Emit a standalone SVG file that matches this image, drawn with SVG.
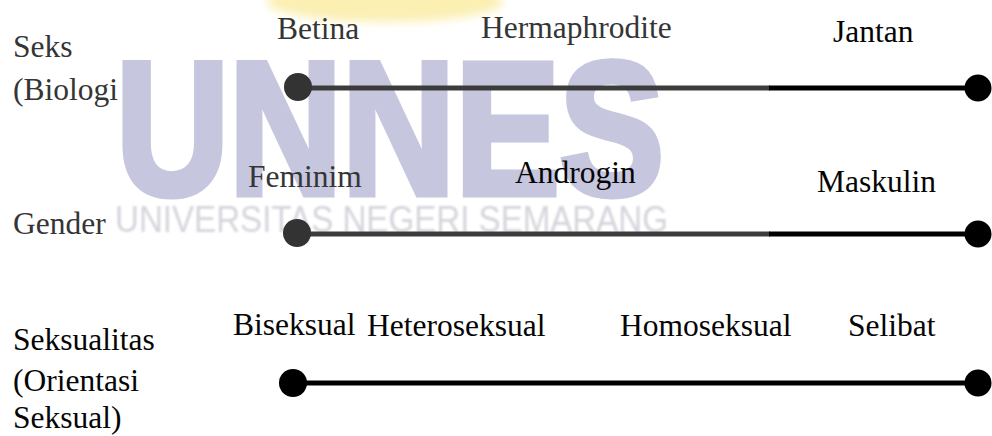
<svg xmlns="http://www.w3.org/2000/svg" width="992" height="436" viewBox="0 0 992 436">
<defs>
<filter id="soft" x="-20%" y="-50%" width="140%" height="200%"><feGaussianBlur stdDeviation="5"/></filter>
<filter id="soft1"><feGaussianBlur stdDeviation="0.8"/></filter>
<style>
text{font-family:"Liberation Serif","Times New Roman",serif;font-size:31.5px}
.g{fill:#353535}
.k{fill:#050505}
.lg{stroke:#3c3c3c;stroke-width:5;fill:none}
.lk{stroke:#000;stroke-width:5;fill:none}
.dg{fill:#333}
.dk{fill:#000}
text.wm{font-family:"Liberation Sans",Arial,sans-serif;font-weight:bold}
text.big{font-size:190px;stroke:#c6c6df;stroke-width:7;stroke-linejoin:miter}
text.small{font-size:37px;font-weight:normal}
</style>
</defs>
<rect width="992" height="436" fill="#fff"/>
<g id="watermark">
<ellipse cx="385" cy="2" rx="118" ry="20" fill="#fbefb2" filter="url(#soft)"/>
<text class="wm big" x="116" y="194" textLength="548" lengthAdjust="spacingAndGlyphs" fill="#c6c6df">UNNES</text>
<text class="wm small" x="115" y="232" textLength="553" lengthAdjust="spacingAndGlyphs" fill="#d4d4dc" filter="url(#soft1)">UNIVERSITAS NEGERI SEMARANG</text>
</g>
<g id="connectors">
<line class="lg" x1="298" y1="88" x2="770" y2="88"/>
<line class="lk" x1="769" y1="88" x2="978" y2="88"/>
<line class="lg" x1="297" y1="234" x2="770" y2="234"/>
<line class="lk" x1="769" y1="234" x2="978" y2="234"/>
<line class="lk" x1="293" y1="383" x2="978" y2="383"/>
</g>
<g id="dots">
<circle class="dg" cx="298" cy="87" r="14"/>
<circle class="dk" cx="978" cy="88" r="13.5"/>
<circle class="dg" cx="297" cy="233" r="14"/>
<circle class="dk" cx="978" cy="234" r="13.5"/>
<circle class="dk" cx="293" cy="383" r="14"/>
<circle class="dk" cx="978" cy="383" r="13.5"/>
</g>
<g id="axis-seks"><text class="g" x="13" y="57">Seks</text><text class="g" x="13" y="100">(Biologi</text></g>
<g id="node-betina"><text class="g" x="277" y="39">Betina</text></g>
<g id="node-hermaphrodite"><text class="g" x="481" y="38">Hermaphrodite</text></g>
<g id="node-jantan"><text class="k" x="833" y="42">Jantan</text></g>
<g id="axis-gender"><text class="g" x="13" y="234">Gender</text></g>
<g id="node-feminim"><text class="g" x="248" y="187">Feminim</text></g>
<g id="node-androgin"><text class="k" x="515" y="183">Androgin</text></g>
<g id="node-maskulin"><text class="k" x="817" y="192">Maskulin</text></g>
<g id="axis-seksualitas"><text class="k" x="13" y="350">Seksualitas</text><text class="k" x="13" y="391">(Orientasi</text><text class="k" x="13" y="428">Seksual)</text></g>
<g id="node-biseksual"><text class="k" x="233" y="335">Biseksual</text></g>
<g id="node-heteroseksual"><text class="k" x="367" y="336">Heteroseksual</text></g>
<g id="node-homoseksual"><text class="k" x="620" y="336">Homoseksual</text></g>
<g id="node-selibat"><text class="k" x="848" y="336">Selibat</text></g>
</svg>
